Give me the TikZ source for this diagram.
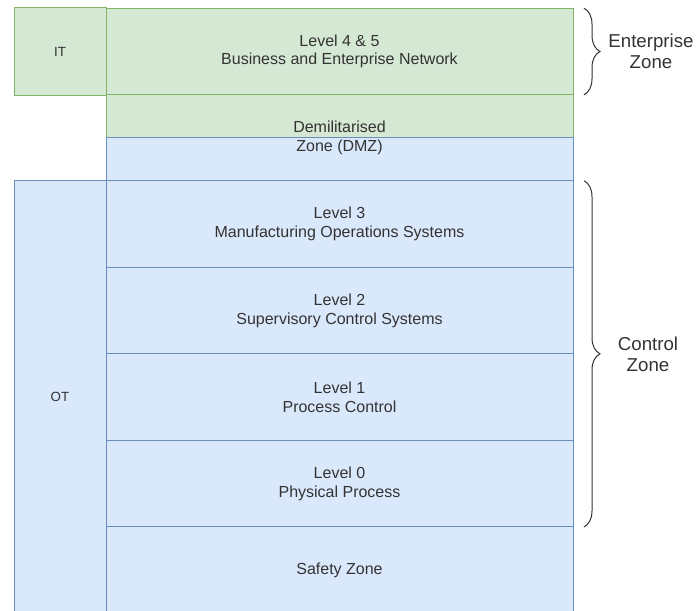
\documentclass[tikz,border=0pt]{standalone}
\usepackage{fontspec}
\setmainfont{Liberation Sans}
\usepackage{tikz}
\usetikzlibrary{calc,positioning,decorations.pathreplacing}
\definecolor{Ink}{HTML}{333333}
\definecolor{Green}{HTML}{82B366}
\definecolor{GreenLight}{HTML}{D5E8D4}
\definecolor{Blue}{HTML}{6C8EBF}
\definecolor{BlueLight}{HTML}{DAE8FC}
\tikzset{level/.style={rectangle,draw=Blue,fill=BlueLight,line width=.75pt,minimum width=350.25pt,minimum height=64.9pt,inner sep=0pt,outer sep=0pt,align=center,text=Ink,font=\fontsize{12}{14}\selectfont},enterprise/.style={level,draw=Green,fill=GreenLight},half/.style={minimum height=32.25pt},side/.style={level,minimum width=69pt,font=\fontsize{10}{12}\selectfont},brace/.style={decorate,decoration={brace,amplitude=12pt},draw=Ink,line width=.75pt},zonelabel/.style={align=center,text=Ink,font=\fontsize{14}{15.75}\selectfont}}

\begin{document}
\begin{tikzpicture}[x=.75pt,y=-.75pt]
      \useasboundingbox(0,0)rectangle(698,610);
      \node[enterprise](l45)at(339.5,51.5){Level 4 \& 5\\Business and Enterprise Network};
      \node[side,draw=Green,fill=GreenLight,minimum height=65.25pt,left=0pt of l45](it){IT};
      \node[enterprise,half,below=0pt of l45](dmzg){};
      \node[level,half,below=0pt of dmzg](dmzb){};
      \node[level,below=0pt of dmzb](l3){Level 3\\Manufacturing Operations Systems};
      \node[level,below=0pt of l3](l2){Level 2\\Supervisory Control Systems};
      \node[level,below=0pt of l2](l1){Level 1\\Process Control};
      \node[level,below=0pt of l1](l0){Level 0\\Physical Process};
      \node[level,below=0pt of l0](safety){Safety Zone};
      \node[side,minimum height=324pt,anchor=north east](ot)at(l3.north west){OT};
      \node[text=Ink,align=center,font=\fontsize{12}{14}\selectfont](dmz)at(dmzg.south){Demilitarised\\Zone (DMZ)};
      % braces on the right
      \coordinate(entTop)at($(l45.north east)+(11,0)$);
      \coordinate(entBot)at($(l45.south east)+(11,0)$);
      \coordinate(ctlTop)at($(l3.north east)+(11,0)$);
      \coordinate(ctlBot)at($(l0.south east)+(11,0)$);
      \draw[brace](entTop)--(entBot);
      \draw[brace](ctlTop)--(ctlBot);
      \node[zonelabel](entzone)at(651,51){Enterprise\\Zone};
      \node[zonelabel](ctlzone)at(648,354){Control\\Zone};
    \end{tikzpicture}
\end{document}
